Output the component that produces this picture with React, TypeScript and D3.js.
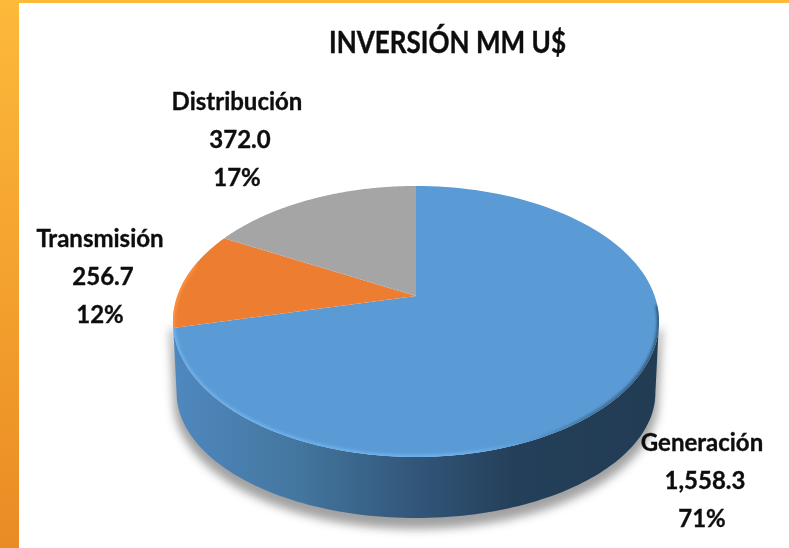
import React from "react";
import * as d3 from "d3";

const categories = ["Generación", "Transmisión", "Distribución"];
const values = [1558.3, 256.7, 372.0];
const valueLabels = ["1,558.3", "256.7", "372.0"];
const percents = ["71%", "12%", "17%"];
const colors = ["#5b9bd5", "#ed7d31", "#a5a5a5"];
const labelPos = [
  [702, 442],
  [100, 238],
  [237, 101],
];

const width = 789;
const height = 548;
const cx = 416;
const cy = 296;
// perspective of the tilted disc
const k = 0.188;
const a = 130.7;
const b = 238.7;
const depth = 73;
const bottomScaleX = 0.985;
const bottomScaleY = 0.926;

const project = (t: number, bottom = false): [number, number] => {
  const u = Math.sin(t);
  const v = -Math.cos(t);
  const d = 1 - k * v;
  const sx = bottom ? bottomScaleX : 1;
  const sy = bottom ? bottomScaleY : 1;
  return [cx + (sx * b * u) / d, cy + (bottom ? depth : 0) + (sy * a * v) / d];
};

const line = d3.line();
const arcPoints = (t0: number, t1: number, bottom = false) =>
  d3.range(0, 121).map((i) => project(t0 + ((t1 - t0) * i) / 120, bottom));

// silhouette goes from the right-most to the left-most point of the rim
const tRight = Math.PI - Math.acos(k);
const tLeft = Math.PI + Math.acos(k);

export default function App() {
  const arcs = d3.pie<number>().sort(null)(values);
  const fullTop = line(arcPoints(0, 2 * Math.PI)) + "Z";
  const wall =
    line([...arcPoints(tRight, tLeft), ...arcPoints(tLeft, tRight, true)]) + "Z";

  return (
    <svg
      width={width}
      height={height}
      style={{ position: "absolute", left: 0, top: 0, background: "#fff" }}
    >
      <defs>
        <linearGradient id="band" x1="0" y1="0" x2="0" y2="1">
          <stop offset="0" stopColor="#fdb93a" />
          <stop offset="1" stopColor="#ea8b24" />
        </linearGradient>
        <linearGradient id="wall" gradientUnits="userSpaceOnUse" x1="175" y1="0" x2="660" y2="0">
          <stop offset="0" stopColor="#4f88bf" />
          <stop offset="0.25" stopColor="#44779f" />
          <stop offset="0.48" stopColor="#33587c" />
          <stop offset="0.7" stopColor="#243f59" />
          <stop offset="1" stopColor="#223c54" />
        </linearGradient>
        <linearGradient id="rim" gradientUnits="userSpaceOnUse" x1="175" y1="0" x2="660" y2="0">
          <stop offset="0" stopColor="#6db2f0" />
          <stop offset="0.62" stopColor="#6db2f0" />
          <stop offset="0.72" stopColor="#5b9bd5" />
          <stop offset="0.85" stopColor="#3a6d9a" />
          <stop offset="1" stopColor="#2b5070" />
        </linearGradient>
        <filter id="shadow" filterUnits="userSpaceOnUse" x="120" y="280" width="600" height="268">
          <feGaussianBlur stdDeviation="5" />
        </filter>
        <filter id="soft" x="-10%" y="-10%" width="120%" height="120%">
          <feGaussianBlur stdDeviation="1.5" />
        </filter>
        <filter id="textSoft">
          <feGaussianBlur stdDeviation="0.35" />
        </filter>
        <clipPath id="topClip">
          <path d={fullTop} />
        </clipPath>
      </defs>

      <rect x={0} y={0} width={19} height={height} fill="url(#band)" />
      <rect x={0} y={0} width={width} height={3} fill="#fdb93a" />

      <path
        d={wall}
        fill="#444"
        stroke="#444"
        strokeWidth={6}
        opacity={0.5}
        transform="translate(0,8)"
        filter="url(#shadow)"
      />
      <path d={wall} fill="url(#wall)" />

      {arcs.map((d, i) => (
        <path
          key={categories[i]}
          d={line([[cx, cy], ...arcPoints(d.startAngle, d.endAngle)]) + "Z"}
          fill={colors[i]}
        />
      ))}

      <g clipPath="url(#topClip)">
        <path
          d={line(arcPoints(tRight - 0.12, arcs[0].endAngle)) as string}
          fill="none"
          stroke="url(#rim)"
          strokeWidth={4}
          filter="url(#soft)"
        />
        <path
          d={line(arcPoints(arcs[1].startAngle, arcs[1].endAngle - 0.25)) as string}
          fill="none"
          stroke="#ff9340"
          strokeWidth={4}
          filter="url(#soft)"
        />
      </g>

      <text
        x={447.5}
        y={53}
        textAnchor="middle"
        textLength={237}
        lengthAdjust="spacingAndGlyphs"
        fontFamily="Lato, sans-serif"
        fontWeight={700}
        fontSize={30}
        fill="#111"
        stroke="#111"
        strokeWidth={0.4}
        filter="url(#textSoft)"
      >
        INVERSIÓN MM U$
      </text>

      {categories.map((c, i) => (
        <text
          key={c}
          textAnchor="middle"
          fontFamily="Lato, sans-serif"
          fontWeight={700}
          fontSize={24}
          fill="#111"
          stroke="#111"
          strokeWidth={0.35}
          filter="url(#textSoft)"
        >
          {[c, valueLabels[i], percents[i]].map((s, j) => (
            <tspan
              key={j}
              x={labelPos[i][0] + (j === 1 ? 3 : 0)}
              y={labelPos[i][1] + 9 + j * 38}
            >
              {s}
            </tspan>
          ))}
        </text>
      ))}
    </svg>
  );
}
